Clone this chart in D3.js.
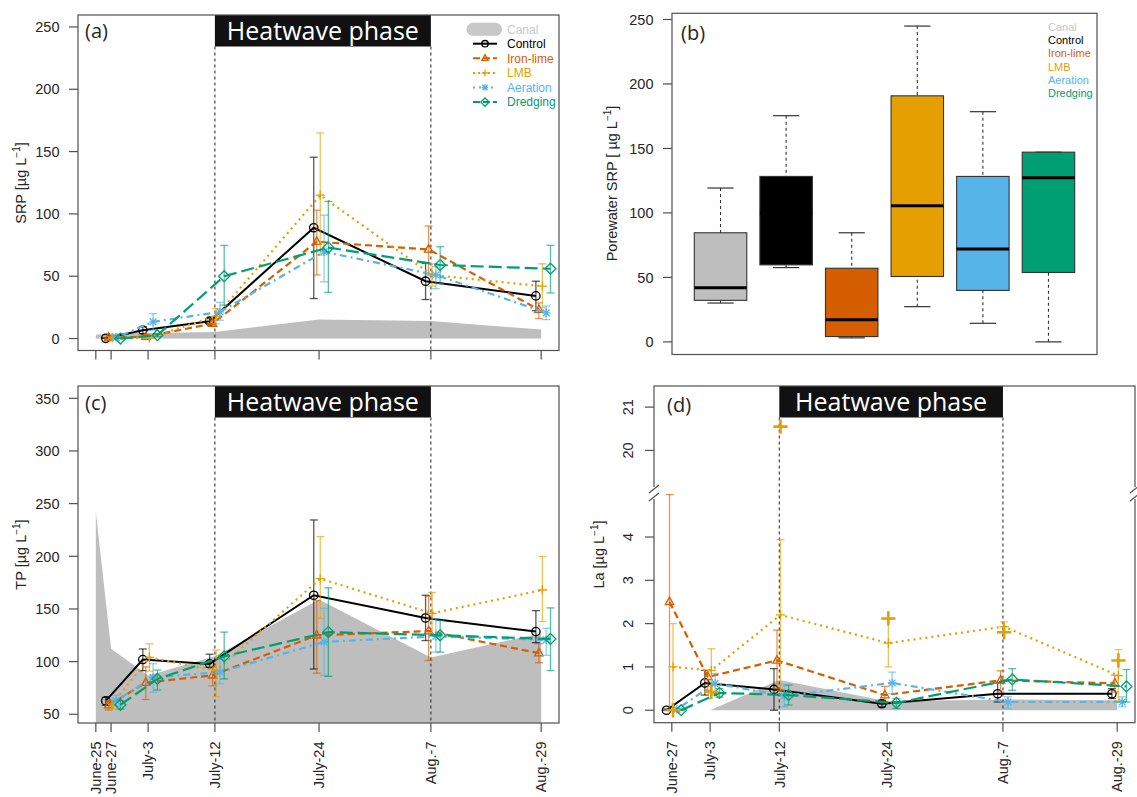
<!DOCTYPE html>
<html><head><meta charset="utf-8">
<script src="https://cdn.jsdelivr.net/npm/d3@7"></script>
<style>body{margin:0;background:#fff}svg{display:block}</style>
</head><body><svg id="c" width="1137" height="797"></svg>
<script>
// ---------- DATA ----------
const dateLabels = ["June-25","June-27","July-3","July-12","July-24","Aug.-7","Aug.-29"];
const dateX = [0, 2.23, 7.63, 17.38, 32.58, 48.9, 65];
const seriesNames = ["Control","Iron-lime","LMB","Aeration","Dredging"];
const heatStart = 3, heatEnd = 5; // July-12 .. Aug.-7

// (a) SRP, triples [low, mean, high], dates June-27 .. Aug.-29
const srpControl  = [[0,0.2,0.5],[4,6.7,9.4],[12,13.9,16],[32.1,88.9,145.5],[31.3,46,60.3],[22.4,34.2,46]];
const srpIronLime = [[0,0.8,2],[0.5,1.5,3],[10,12,14.5],[51,77.7,103],[52,71.5,90.3],[16,23.2,28.6]];
const srpLMB      = [[0,0.5,1.5],[0,0.5,2],[12,18,24],[67,115,165],[42,51,60],[24.6,42,60]];
const srpAeration = [[0,0.8,2],[6.7,13.4,20],[14.7,21.4,29],[45.5,69.6,99],[40,51,57.6],[15.2,20.6,26]];
const srpDredging = [[0,0,0.5],[1.5,2.7,4],[26.8,50,74.7],[37,73,110],[44,59,73.7],[36.6,56,74.8]];
const srpCanal    = [3, 4, 4.5, 5.3, 15.2, 14.1, 7.2];

// (c) TP
const tpControl  = [[58.6,62.7,66],[91.4,101.9,112],[94.6,97.8,107],[93,163,234.5],[120,141.4,163],[118,128.5,148.4]];
const tpIronLime = [[54,58.6,63],[64,80,95],[77,87,95],[89,125,158],[101,129,162],[99,108,117]];
const tpLMB      = [[55,59.6,64],[91,104,117],[66.6,91.5,111],[141,178.8,218.7],[125,145.8,165.6],[138,168,199.7]];
const tpAeration = [[58,63,68],[70.8,85,98],[78.8,90,102.7],[86.7,118.7,150.6],[109,124,141],[106,120.6,131.6]];
const tpDredging = [[55,59,63],[73,83.5,92],[83.5,105,128],[86,128,170],[109,125,139],[91.5,121.5,151]];
const tpCanal    = [242, 112.3, 86.7, 105, 159, 104, 127];

// (d) La
const laControl  = [[0,0,0.03],[0.35,0.63,0.92],[0,0.48,0.96],[0.08,0.15,0.23],[0.19,0.38,0.63],[0.27,0.38,0.5]];
const laIronLime = [[0,2.5,4.98],[0.46,0.77,0.92],[0.5,1.15,1.85],[0.17,0.35,0.55],[0.42,0.69,0.91],[0.42,0.62,0.81]];
const laLMB      = [[0,1,2],[0.4,0.92,1.42],[0.46,2.2,3.94],[1,1.55,2.1],[1.82,1.93,2.04],[0.22,0.8,1.4]];
const laAeration = [[0,0.02,0.05],[0.35,0.62,0.85],[0.08,0.33,0.58],[0.38,0.63,0.88],[0.04,0.19,0.31],[0.08,0.19,0.31]];
const laDredging = [[0,0,0.03],[0.3,0.4,0.5],[0.12,0.35,0.58],[0.04,0.17,0.27],[0.46,0.71,0.96],[0.19,0.55,0.94]];
const laLMBPoints = [0, 0.42, 20.55, 2.12, 1.8, 1.15];
const laCanal    = [null, null, 0, 0.7, 0.21, 0.25, 0.23];

// (b) porewater SRP boxplots
const boxCats = ["Canal","Control","Iron-lime","LMB","Aeration","Dredging"];
const boxLow  = [30.1, 57.6, 3.1, 27.3, 14.4, 0];
const boxQ1   = [32.2, 59.7, 4.1, 50.7, 39.9, 53.8];
const boxMed  = [41.9, 100, 17.2, 105.5, 72, 127.3];
const boxQ3   = [84.6, 128.3, 57.1, 190.8, 128.3, 147.1];
const boxHigh = [119.3, 175.4, 84.6, 244.9, 178.5, 147.1];

const srpTicks = [0,50,100,150,200,250];
const tpTicks = [50,100,150,200,250,300,350];
const laTicks = [0,1,2,3,4,20,21];

// ---------- STYLE ----------
const svg = d3.select("#c");
const AX = "#505050";
const TXT = "#262626";
const FONT = "'Liberation Sans', Arial, Helvetica, sans-serif";
const HFONT = "'Open Sans', 'Noto Sans', sans-serif";
const colors = {"Canal":"#BEBEBE","Control":"#000000","Iron-lime":"#D55E00","LMB":"#E69F00","Aeration":"#56B4E9","Dredging":"#009E73"};
const legendText = {"Canal":"#C8C8C8","Control":"#000","Iron-lime":"#D55E00","LMB":"#E69F00","Aeration":"#56B4E9","Dredging":"#009E73"};
const dashes = [null,"7,4","2,4","2,4,7,4","13,5"];
const offsets = [-5.3,-2.3,1.2,5,9.3];
const shapes = ["circle","triangle","plus","star","diamond"];
const TICK = 9, TLAB = 18.5, FS = 14.5;

function markerPath(shape, s) {
  switch (shape) {
    case "triangle": return `M0,${-s*1.15}L${s},${s*0.65}L${-s},${s*0.65}Z`;
    case "plus": return `M${-s*1.1},0H${s*1.1}M0,${-s*1.1}V${s*1.1}`;
    case "star": { const a=s*0.8; return `M${-s},0H${s}M0,${-s}V${s}M${-a},${-a}L${a},${a}M${-a},${a}L${a},${-a}`; }
    case "diamond": return `M0,${-s*1.3}L${s*1.3},0L0,${s*1.3}L${-s*1.3},0Z`;
  }
}
function drawMarker(g, shape, x, y, color, s, sw) {
  if (shape === "circle") {
    g.append("circle").attr("cx",x).attr("cy",y).attr("r",s).attr("fill","none").attr("stroke",color).attr("stroke-width",sw);
  } else {
    g.append("path").attr("transform",`translate(${x},${y})`).attr("d",markerPath(shape,s))
      .attr("fill","none").attr("stroke",color).attr("stroke-width",sw);
  }
}
function yTitle(x, y, main) {
  const t = svg.append("text").attr("transform",`translate(${x},${y}) rotate(-90)`)
    .attr("text-anchor","middle").attr("dy","0.35em").attr("font-family",FONT).attr("font-size",FS).attr("fill",TXT);
  t.append("tspan").text(main + "L");
  t.append("tspan").attr("dy",-6).attr("font-size",10).text("\u22121");
  t.append("tspan").attr("dy",6).text("]");
}
function panelTag(x, y, txt) {
  svg.append("text").attr("x",x).attr("y",y).attr("font-family",HFONT).attr("font-size",20).attr("fill",TXT).text(txt);
}

// ---------- LINE PANELS ----------
function linePanel(p) {
  const g = svg.append("g");
  const xs = d3.scaleLinear().domain(p.xDomain).range([p.L, p.R]);
  const yLin = d3.scaleLinear().domain(p.yDomain).range([p.B, p.T]);
  const ys = v => yLin(p.yMap ? p.yMap(v) : v);
  const cid = "clip" + p.tag;
  svg.append("clipPath").attr("id",cid).append("rect").attr("x",p.L).attr("y",p.T).attr("width",p.R-p.L).attr("height",p.B-p.T);
  const plot = g.append("g").attr("clip-path",`url(#${cid})`);

  // canal area
  const cp = p.canal.map((v,i)=>({x:dateX[i], v})).filter(d=>d.v!==null);
  plot.append("path").datum(cp)
    .attr("d", d3.area().x(d=>xs(d.x)).y0(ys(p.canalBase)).y1(d=>ys(d.v)))
    .attr("fill", colors.Canal);

  // heatwave box + dashed lines
  const hx1 = xs(dateX[heatStart]), hx2 = xs(dateX[heatEnd]), hb = p.T + 31.5;
  [hx1, hx2].forEach(x => g.append("line").attr("x1",x).attr("x2",x).attr("y1",hb).attr("y2",p.B)
    .attr("stroke","#333").attr("stroke-width",1.1).attr("stroke-dasharray","3,3"));

  // series
  p.series.forEach((arr, si) => {
    const col = colors[seriesNames[si]];
    const pts = arr.map((t,i)=>({x: xs(dateX[i+1]) + offsets[si], lo:t[0], m:t[1], hi:t[2]}));
    const eg = g.append("g").attr("stroke",col).attr("stroke-opacity",0.65).attr("stroke-width",1.3).attr("fill","none");
    pts.forEach(d => {
      if (d.hi - d.lo < 0.0001) return;
      eg.append("line").attr("x1",d.x).attr("x2",d.x).attr("y1",ys(d.lo)).attr("y2",ys(d.hi));
      eg.append("line").attr("x1",d.x-4).attr("x2",d.x+4).attr("y1",ys(d.lo)).attr("y2",ys(d.lo));
      eg.append("line").attr("x1",d.x-4).attr("x2",d.x+4).attr("y1",ys(d.hi)).attr("y2",ys(d.hi));
    });
    g.append("path").datum(pts).attr("d", d3.line().x(d=>d.x).y(d=>ys(d.m)))
      .attr("fill","none").attr("stroke",col).attr("stroke-width", si===0?2:2.2)
      .attr("stroke-dasharray", dashes[si]);
    const mg = g.append("g");
    pts.forEach(d => drawMarker(mg, shapes[si], d.x, ys(d.m), col, 4.2, 1.3));
  });
  if (p.extraPlus) {
    p.extraPlus.forEach((v,i) => drawMarker(g, "plus", xs(dateX[i+1]) + offsets[2], ys(v), colors.LMB, 6.5, 2.6));
  }

  // heatwave box on top
  g.append("rect").attr("x",hx1).attr("y",p.T).attr("width",hx2-hx1).attr("height",31.5).attr("fill","#111");
  g.append("text").attr("x",(hx1+hx2)/2).attr("y",p.T+24.5).attr("text-anchor","middle")
    .attr("font-family",HFONT).attr("font-size",25).attr("fill","#fff").text("Heatwave phase");

  // frame
  g.append("rect").attr("x",p.L).attr("y",p.T).attr("width",p.R-p.L).attr("height",p.B-p.T)
    .attr("fill","none").attr("stroke",AX).attr("stroke-width",1.2);

  // x ticks
  p.xTickIdx.forEach(i => {
    const x = xs(dateX[i]);
    g.append("line").attr("x1",x).attr("x2",x).attr("y1",p.B).attr("y2",p.B+TICK).attr("stroke",AX).attr("stroke-width",1.2);
    if (p.xLabels) {
      g.append("text").attr("transform",`translate(${x},${p.B+TLAB}) rotate(-90)`).attr("dy","0.36em")
        .attr("text-anchor","end").attr("font-family",FONT).attr("font-size",FS).attr("fill",TXT).text(dateLabels[i]);
    }
  });
  // y ticks
  p.yTicks.forEach(v => {
    const y = ys(v);
    g.append("line").attr("x1",p.L-TICK).attr("x2",p.L).attr("y1",y).attr("y2",y).attr("stroke",AX).attr("stroke-width",1.2);
    if (p.yRotate) {
      g.append("text").attr("transform",`translate(${p.L-21},${y}) rotate(-90)`).attr("text-anchor","middle")
        .attr("font-family",FONT).attr("font-size",FS).attr("fill",TXT).text(v);
    } else {
      g.append("text").attr("x",p.L-TLAB).attr("y",y).attr("dy","0.36em").attr("text-anchor","end")
        .attr("font-family",FONT).attr("font-size",FS).attr("fill",TXT).text(v);
    }
  });
  return {xs, ys, g};
}

// (a)
linePanel({tag:"a", L:78, R:559, T:15, B:350.5, xDomain:[-2.6,67.6], yDomain:[-9.6,259.6],
  canal:srpCanal, canalBase:0, series:[srpControl,srpIronLime,srpLMB,srpAeration,srpDredging],
  xTickIdx:[0,1,2,3,4,5,6], xLabels:false, yTicks:srpTicks});
panelTag(85, 38, "(a)");
yTitle(21, 183, "SRP [\u00b5g  ");

// (c)
linePanel({tag:"c", L:78, R:559, T:386, B:723, xDomain:[-2.6,67.6], yDomain:[41.7,361.7],
  canal:tpCanal, canalBase:41.7, series:[tpControl,tpIronLime,tpLMB,tpAeration,tpDredging],
  xTickIdx:[0,1,2,3,4,5,6], xLabels:true, yTicks:tpTicks});
panelTag(85, 410, "(c)");
yTitle(21, 554.5, "TP [\u00b5g  ");

// (d) with broken axis (values above the gap shifted down by 14)
linePanel({tag:"d", L:654, R:1135, T:386, B:722.7, xDomain:[-0.28,67.51], yDomain:[-0.288,7.488],
  yMap: v => (v > 10 ? v - 14 : v),
  canal:laCanal, canalBase:0, series:[laControl,laIronLime,laLMB,laAeration,laDredging],
  extraPlus: laLMBPoints,
  xTickIdx:[1,2,3,4,5,6], xLabels:true, yTicks:laTicks, yRotate:true});
panelTag(667, 412, "(d)");
yTitle(599, 554.5, "La [\u00b5g  ");
// break marks
[654, 1135].forEach(x => {
  const yb = 493;
  svg.append("rect").attr("x",x-2).attr("y",yb-6).attr("width",4).attr("height",12).attr("fill","#fff");
  [-4, 4].forEach(dy => svg.append("line").attr("x1",x-5).attr("y1",yb+dy+4).attr("x2",x+5).attr("y2",yb+dy-4)
    .attr("stroke",AX).attr("stroke-width",1.2));
});

// (a) legend
(function(){
  const lg = svg.append("g");
  const lx1 = 473, lx2 = 497, tx = 507;
  lg.append("line").attr("x1",473).attr("x2",495.5).attr("y1",29.3).attr("y2",29.3)
    .attr("stroke","#C8C8C8").attr("stroke-width",13).attr("stroke-linecap","round");
  lg.append("text").attr("x",tx).attr("y",29.3).attr("dy","0.36em").attr("font-family",FONT).attr("font-size",12)
    .attr("fill",legendText.Canal).text("Canal");
  seriesNames.forEach((s,i) => {
    const y = 43.7 + i*14.6;
    lg.append("line").attr("x1",lx1).attr("x2",lx2).attr("y1",y).attr("y2",y).attr("stroke",colors[s])
      .attr("stroke-width",2).attr("stroke-dasharray", i===0?null:(i===2?"2,3":(i===3?"2,4":"7,3")));
    drawMarker(lg, shapes[i], (lx1+lx2)/2, y, colors[s], 3.2, 1.3);
    lg.append("text").attr("x",tx).attr("y",y).attr("dy","0.36em").attr("font-family",FONT).attr("font-size",12)
      .attr("fill",legendText[s]).text(s);
  });
})();

// ---------- (b) BOXPLOT ----------
(function(){
  const L=672, R=1097, T=13.3, B=354.5;
  const xs = d3.scaleLinear().domain([0.26, 6.74]).range([L, R]);
  const ys = d3.scaleLinear().domain([-9.8, 254.8]).range([B, T]);
  const g = svg.append("g");
  const bw = xs(0.8) - xs(0);
  boxCats.forEach((c,i) => {
    const cx = xs(i+1);
    [[boxHigh[i], boxQ3[i]], [boxLow[i], boxQ1[i]]].forEach(([a,b]) => {
      if (Math.abs(a-b) > 0.01) g.append("line").attr("x1",cx).attr("x2",cx).attr("y1",ys(a)).attr("y2",ys(b))
        .attr("stroke","#333").attr("stroke-width",1.1).attr("stroke-dasharray","3,3");
      g.append("line").attr("x1",cx-bw/4).attr("x2",cx+bw/4).attr("y1",ys(a)).attr("y2",ys(a))
        .attr("stroke","#333").attr("stroke-width",1.2);
    });
    g.append("rect").attr("x",cx-bw/2).attr("y",ys(boxQ3[i])).attr("width",bw).attr("height",ys(boxQ1[i])-ys(boxQ3[i]))
      .attr("fill",colors[c]).attr("stroke","#333").attr("stroke-width",1.1);
    g.append("line").attr("x1",cx-bw/2).attr("x2",cx+bw/2).attr("y1",ys(boxMed[i])).attr("y2",ys(boxMed[i]))
      .attr("stroke","#000").attr("stroke-width",3);
  });
  g.append("rect").attr("x",L).attr("y",T).attr("width",R-L).attr("height",B-T).attr("fill","none").attr("stroke",AX).attr("stroke-width",1.2);
  srpTicks.forEach(v => {
    const y = ys(v);
    g.append("line").attr("x1",L-TICK).attr("x2",L).attr("y1",y).attr("y2",y).attr("stroke",AX).attr("stroke-width",1.2);
    g.append("text").attr("x",L-TLAB).attr("y",y).attr("dy","0.36em").attr("text-anchor","end")
      .attr("font-family",FONT).attr("font-size",FS).attr("fill",TXT).text(v);
  });
  boxCats.forEach((c,i) => {
    g.append("text").attr("x",1048).attr("y",26.7 + i*13.3).attr("dy","0.36em").attr("font-family",FONT)
      .attr("font-size",11).attr("fill",legendText[c]).text(c);
  });
  panelTag(681, 40, "(b)");
  yTitle(612, 183.5, "Porewater SRP [ \u00b5g  ");
})();
</script></body></html>
